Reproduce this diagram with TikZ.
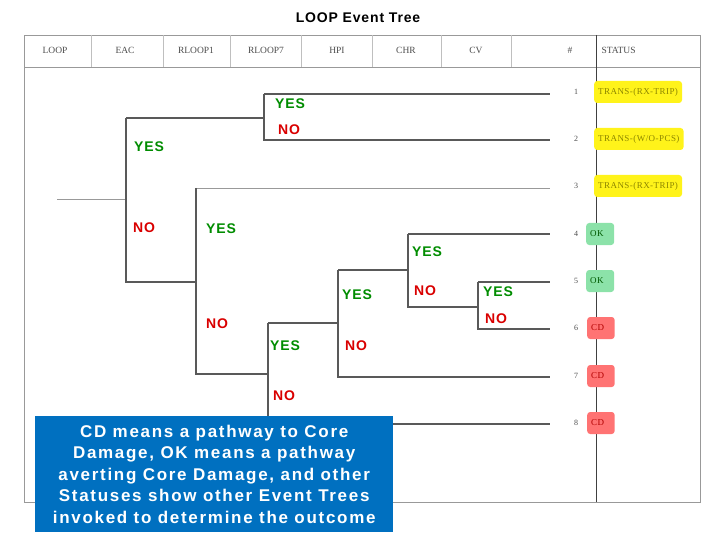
\documentclass[tikz,border=0pt]{standalone}
\usepackage{fontspec}
\setmainfont{Liberation Sans}
\newfontfamily\serifx{Liberation Serif}
\definecolor{noteblue}{RGB}{0,112,192}
\begin{document}
\begin{tikzpicture}[x=1pt,y=-1pt,
  br/.style={draw=black!65,line width=1.2pt},
  yes/.style={text=green!55!black,font=\bfseries\fontsize{14}{15}\selectfont\addfontfeatures{LetterSpace=6}},
  no/.style={text=red!85!black,font=\bfseries\fontsize{14}{15}\selectfont\addfontfeatures{LetterSpace=6}},
  hd/.style={font=\serifx\fontsize{9.5}{10}\selectfont,text=black!70},
  num/.style={font=\serifx\fontsize{8}{9}\selectfont,text=black!70},
  st/.style={font=\serifx\fontsize{9}{9}\selectfont\addfontfeatures{LetterSpace=5},rounded corners=3pt,minimum height=22pt,inner xsep=4pt,anchor=west}]
\useasboundingbox (0,0) rectangle (720,540);
\node[font=\bfseries\fontsize{14}{15}\selectfont\addfontfeatures{LetterSpace=6}] (title) at (358,18) {LOOP Event Tree};
% frame
\draw[black!40,line width=0.8pt] (24,35) rectangle (700,502);
\draw[black!40,line width=0.8pt] (24,67) -- (700,67);
\foreach \x in {91,163,230,301,372,441,511} \draw[black!25] (\x,35) -- (\x,67);
\draw[black!75,line width=1pt] (596,35) -- (596,502);
\foreach \t/\x [count=\i] in {LOOP/55,EAC/125,RLOOP1/196,RLOOP7/266,HPI/337,CHR/406,CV/476,\#/570}
  \node[hd] (h\i) at (\x,50) {\t};
\node[hd,anchor=west] (h9) at (598,50) {STATUS};
% tree
\coordinate (s) at (57,199);
\draw[black!40] (s) -- (126,199);
\draw[br] (264,94) -- (550,94);
\draw[br] (264,94) -- (264,140) -- (550,140);
\draw[br] (126,118) -- (264,118);
\draw[br] (126,118) -- (126,282) -- (196,282);
\draw[black!40] (196,188) -- (550,188);
\draw[br] (196,188) -- (196,374) -- (268,374);
\draw[br] (268,323) -- (268,424) -- (550,424);
\draw[br] (268,323) -- (338,323);
\draw[br] (338,270) -- (338,377) -- (550,377);
\draw[br] (338,270) -- (408,270);
\draw[br] (408,234) -- (550,234);
\draw[br] (408,234) -- (408,307) -- (478,307);
\draw[br] (478,282) -- (550,282);
\draw[br] (478,282) -- (478,329) -- (550,329);
% labels
\node[yes] (l1) at (290,104) {YES};
\node[no] (l2) at (289,130) {NO};
\node[yes] (l3) at (149,147) {YES};
\node[no] (l4) at (144,228) {NO};
\node[yes] (l5) at (221,229) {YES};
\node[yes] (l6) at (427,252) {YES};
\node[yes] (l7) at (357,295) {YES};
\node[no] (l8) at (425,291) {NO};
\node[yes] (l9) at (498,292) {YES};
\node[no] (l10) at (496,319) {NO};
\node[no] (l11) at (217,324) {NO};
\node[yes] (l12) at (285,346) {YES};
\node[no] (l13) at (356,346) {NO};
\node[no] (l14) at (284,396) {NO};
% numbers and status
\foreach \y [count=\i] in {92,139,186,234,281,328,376,423} \node[num] (n\i) at (576,\y) {\i};
\node[st,fill=yellow!90,text=olive] (s1) at (594,92) {TRANS-(RX-TRIP)};
\node[st,fill=yellow!90,text=olive] (s2) at (594,139) {TRANS-(W/O-PCS)};
\node[st,fill=yellow!90,text=olive] (s3) at (594,186) {TRANS-(RX-TRIP)};
\node[st,fill=green!50!teal!45,text=green!35!black] (s4) at (586,234) {OK\phantom{O}};
\node[st,fill=green!50!teal!45,text=green!35!black] (s5) at (586,281) {OK\phantom{O}};
\foreach \i/\y in {6/328,7/376,8/423}
  \node[st,fill=red!55,text=red!70!black] (s\i) at (587,\y) {CD\phantom{O}};
% note
\node[fill=noteblue,text=white,minimum width=358pt,minimum height=116pt,align=center,inner sep=2pt,
  font=\bfseries\fontsize{17}{21.5}\selectfont\addfontfeatures{LetterSpace=10},anchor=north west] (note) at (35,416)
  {CD means a pathway to Core\\Damage, OK means a pathway\\averting Core Damage, and other\\Statuses show other Event Trees\\invoked to determine the outcome};
\end{tikzpicture}
\end{document}
